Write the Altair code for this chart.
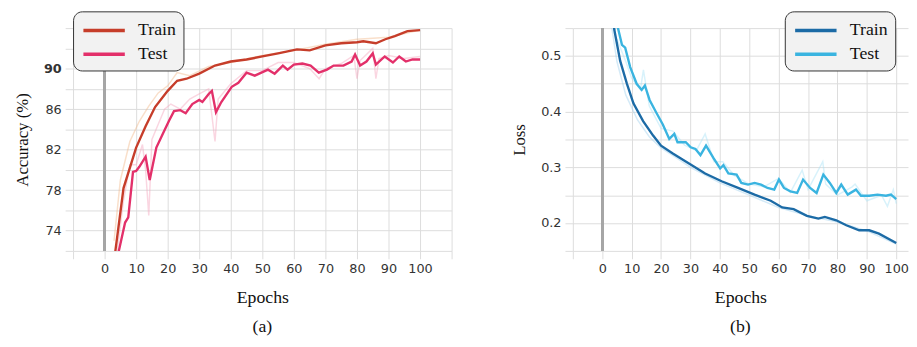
import altair as alt
import pandas as pd

# ---------------- data ----------------
acc_train_epoch = [3, 6, 10, 13, 16, 20, 23, 26, 30, 35, 40, 45, 50, 55, 61, 65, 70, 75, 80, 82, 86, 89, 92, 96, 100]
acc_train = [71.0, 78.2, 82.2, 84.3, 86.2, 87.8, 88.8, 89.0, 89.5, 90.3, 90.7, 90.9, 91.2, 91.5, 91.9, 91.8,
             92.3, 92.5, 92.6, 92.7, 92.5, 92.9, 93.2, 93.7, 93.8]

acc_test_epoch = [3.8, 6.5, 7.5, 9, 10, 11, 13, 14.3, 16.4, 18.5, 20.5, 22, 24, 25.7, 27.8, 30, 31, 33, 34, 35.3,
                  37, 40.3, 42.4, 45, 47.6, 49.7, 51.8, 53.9, 56.5, 58, 60, 62.7, 65.3, 67.9, 70.5, 72.6, 75.7,
                  78.3, 79.4, 81, 83, 85, 86, 88.8, 91.4, 93.4, 95.5, 97.6, 100]
acc_test = [71.0, 74.8, 75.3, 79.8, 79.9, 80.3, 81.3, 79.0, 82.2, 83.6, 84.9, 85.8, 85.9, 85.6, 86.5, 86.9, 86.7,
            87.5, 87.8, 85.7, 86.7, 88.2, 88.6, 89.6, 89.3, 89.6, 89.9, 89.5, 90.3, 89.9, 90.4, 90.5, 90.3, 89.6,
            89.9, 90.3, 90.3, 90.7, 91.4, 90.3, 90.7, 91.5, 90.4, 91.2, 90.6, 91.2, 90.7, 90.9, 90.9]

raw_acc_train_epoch = [3, 5, 8, 11, 14, 17, 20, 23, 27, 33, 40, 50, 60, 70, 80, 90, 100]
raw_acc_train = [73, 79, 82.8, 84.8, 86.3, 87.6, 88.3, 89.6, 89.3, 90.2, 90.6, 91.3, 91.8, 92.4, 92.9, 93.1, 93.8]

raw_acc_test_epoch = [4, 6, 8, 10, 12, 13, 14, 15, 17, 19, 21, 24, 27, 30, 33, 35, 36, 40, 45, 50, 55, 60, 65,
                      68, 70, 75, 79, 80, 81, 85, 86, 87, 90, 95, 100]
raw_acc_test = [72, 77, 80.5, 80.5, 82.5, 80, 75.5, 83, 84.5, 86, 86.5, 86, 87, 87.5, 88, 82.8, 87, 88.5, 89.8,
                89.8, 90.6, 90.6, 90, 89, 90, 90.5, 91.3, 89, 90.8, 92, 89, 91, 91.3, 91, 91.2]

loss_train_epoch = [3, 4.1, 6.1, 8.4, 10.6, 13.9, 17.3, 20, 24, 29.5, 35, 40.6, 46.2, 51.8, 57.3, 61.2, 65.1,
                    69.6, 73.5, 75.7, 79.6, 83, 87.4, 90.8, 94.1, 100]
loss_train = [0.60, 0.547, 0.491, 0.450, 0.415, 0.383, 0.357, 0.339, 0.325, 0.307, 0.289, 0.275, 0.263, 0.251,
              0.240, 0.228, 0.225, 0.213, 0.208, 0.211, 0.205, 0.196, 0.187, 0.187, 0.181, 0.164]

loss_test_epoch = [4, 6.7, 7.8, 9.5, 11.7, 13.4, 14.5, 16.1, 18.4, 20.6, 22.8, 24.5, 25.6, 28.4, 30.1, 31.7, 33.4,
                   35.3, 37.9, 40.1, 41.2, 42.9, 45.7, 47.3, 49.6, 51.8, 54, 56.2, 58.5, 60.1, 61.8, 64, 66.3,
                   68.3, 70.7, 72.9, 75.2, 77.4, 79.6, 81.3, 83.5, 86.3, 88, 90.8, 93.6, 96.5, 98.2, 99.3, 100]
loss_test = [0.58, 0.520, 0.515, 0.480, 0.450, 0.439, 0.447, 0.421, 0.398, 0.377, 0.351, 0.360, 0.345, 0.345,
             0.336, 0.333, 0.322, 0.339, 0.316, 0.298, 0.304, 0.289, 0.287, 0.272, 0.269, 0.272, 0.269, 0.263,
             0.260, 0.278, 0.263, 0.257, 0.254, 0.278, 0.263, 0.254, 0.287, 0.272, 0.254, 0.269, 0.251, 0.260,
             0.249, 0.249, 0.251, 0.249, 0.251, 0.246, 0.243]

raw_loss_train_epoch = [3, 5, 8, 12, 16, 20, 25, 30, 40, 50, 60, 70, 80, 90, 100]
raw_loss_train = [0.56, 0.49, 0.43, 0.385, 0.355, 0.335, 0.318, 0.300, 0.272, 0.250, 0.228, 0.213, 0.202, 0.186, 0.162]

raw_loss_test_epoch = [5, 8, 10, 13, 14, 16, 20, 24, 28, 32, 35, 38, 41, 45, 50, 55, 60, 64, 68, 70, 75, 76, 80,
                       85, 86, 90, 95, 97, 99, 100]
raw_loss_test = [0.53, 0.49, 0.46, 0.44, 0.475, 0.41, 0.37, 0.365, 0.34, 0.33, 0.36, 0.31, 0.31, 0.285, 0.27,
                 0.265, 0.28, 0.255, 0.295, 0.26, 0.31, 0.27, 0.25, 0.265, 0.27, 0.24, 0.25, 0.23, 0.26, 0.235]

series_names = ["Train", "Test"]
acc_colors = ["#c63d2a", "#e3306a"]
acc_raw_colors = ["#f2b98a", "#f4a3bd"]
loss_colors = ["#1c6ba6", "#3ab4e0"]
loss_raw_colors = ["#9fd0ee", "#a9e2f6"]

acc_x_ticks = list(range(-10, 111, 10))
acc_y_ticks = list(range(72, 95, 2))
loss_y_ticks = [0.15, 0.2, 0.25, 0.3, 0.35, 0.4, 0.45, 0.5, 0.55]


def frame(ep_a, val_a, ep_b, val_b):
    return pd.DataFrame({
        "epoch": list(ep_a) + list(ep_b),
        "value": list(val_a) + list(val_b),
        "series": ["Train"] * len(ep_a) + ["Test"] * len(ep_b),
    })


acc_df = frame(acc_train_epoch, acc_train, acc_test_epoch, acc_test)
acc_raw_df = frame(raw_acc_train_epoch, raw_acc_train, raw_acc_test_epoch, raw_acc_test)
loss_df = frame(loss_train_epoch, loss_train, loss_test_epoch, loss_test)
loss_raw_df = frame(raw_loss_train_epoch, raw_loss_train, raw_loss_test_epoch, raw_loss_test)

SERIF = "Liberation Serif"


def legend(x):
    return alt.Legend(
        title=None, orient="none", legendX=x, legendY=-17, direction="vertical",
        fillColor="#f2f2f2", strokeColor="#333333", cornerRadius=9, padding=7,
        labelFont=SERIF, labelFontSize=18, labelColor="#111111", labelOffset=22,
        symbolType="M-2,0H2", symbolStrokeWidth=3.5, symbolSize=441, symbolOffset=12,
        rowPadding=2, symbolOpacity=1, labelLimit=300,
    )


def panel(df, raw_df, colors, raw_colors, xdom, ydom, yticks, ylabel_expr, ytitle, leg_x, width, caption,
          bold90=False):
    xaxis = alt.Axis(values=acc_x_ticks, title="Epochs", labelOverlap=False, labelFlush=False,
                     labelExpr="datum.value < 0 || datum.value > 100 ? '' : datum.label")
    xscale = alt.Scale(domain=xdom, nice=False, zero=False)
    x = alt.X("epoch:Q", scale=xscale, axis=xaxis)
    yaxis_kwargs = dict(values=yticks, title=ytitle, labelExpr=ylabel_expr, labelOverlap=False)
    if bold90:
        yaxis_kwargs["labelFontWeight"] = {"condition": {"test": "datum.value == 90", "value": "bold"},
                                           "value": "normal"}
    y = alt.Y("value:Q", scale=alt.Scale(domain=ydom, nice=False, zero=False), axis=alt.Axis(**yaxis_kwargs))
    raw = alt.Chart(raw_df).mark_line(clip=True, strokeWidth=1.5, opacity=0.45).encode(
        x=x, y=y,
        stroke=alt.Stroke("series:N", scale=alt.Scale(domain=series_names, range=raw_colors), legend=None),
        detail="series:N",
    )
    main = alt.Chart(df).mark_line(clip=True, strokeWidth=2.4).encode(
        x=x, y=y,
        color=alt.Color("series:N", scale=alt.Scale(domain=series_names, range=colors), legend=legend(leg_x)),
    )
    zero = alt.Chart(df).mark_rule(color="#a6a6a6", strokeWidth=2).encode(
        x=alt.XDatum(0, axis=xaxis, scale=xscale))
    return alt.layer(raw, main, zero).resolve_scale(stroke="independent").properties(
        width=width, height=226,
        title=alt.TitleParams(text=caption, orient="bottom", font=SERIF, fontSize=18, fontWeight="normal",
                              anchor="middle", frame="group", offset=12, color="#111111"),
    )


left = panel(acc_df, acc_raw_df, acc_colors, acc_raw_colors, [-10, 110], [72, 94], acc_y_ticks,
             "(datum.value - 74) % 4 == 0 && datum.value <= 90 ? datum.label : ''",
             "Accuracy  (%)", 0, 384, "(a)", bold90=True)
right = panel(loss_df, loss_raw_df, loss_colors, loss_raw_colors, [-10, 104], [0.15, 0.55], loss_y_ticks,
              "round(datum.value * 100) % 10 == 0 && datum.value > 0.16 && datum.value < 0.54 ? format(datum.value, '.1f') : ''",
              "Loss", 215, 340, "(b)")

chart = alt.hconcat(left, right, spacing=58).resolve_scale(color="independent", stroke="independent").properties(
    padding={"left": 5, "top": 0, "right": 0, "bottom": 0}
).configure_view(stroke="transparent").configure_axis(
    grid=True, gridColor="#dcdcdc", gridWidth=1, domain=False,
    ticks=True, tickColor="#dcdcdc", tickSize=8,
    labelFont="DejaVu Sans", labelFontSize=13, labelColor="#333333", labelPadding=4,
    titleFont=SERIF, titleFontSize=18, titleFontWeight="normal", titleColor="#111111",
).configure_axisX(titlePadding=13).configure_axisY(titlePadding=12, titleFontSize=17)

chart.save("out.html", embed_options={"renderer": "svg", "actions": False})
